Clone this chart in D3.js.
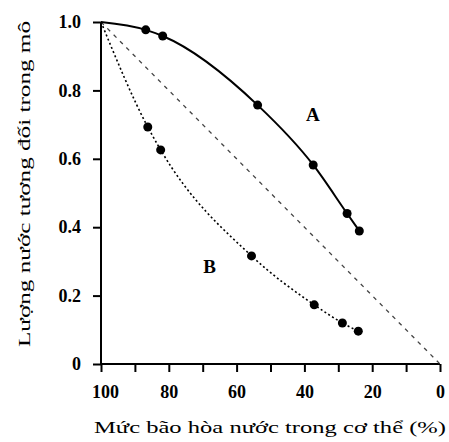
<!DOCTYPE html>
<html>
<head>
<meta charset="utf-8">
<script src="https://cdn.jsdelivr.net/npm/d3@7"></script>
<style>
  body { margin: 0; background: #fff; }
  text { font-family: "Liberation Serif", "DejaVu Serif", serif; }
</style>
</head>
<body>
<svg id="chart" width="449" height="442"></svg>
<script>
// Data
const xA = [100, 86.8, 81.8, 53.8, 37.4, 27.4, 23.8];
const yA = [1.0, 0.977, 0.959, 0.757, 0.582, 0.44, 0.389];
const xB = [100, 86.2, 82.4, 55.6, 37.1, 28.8, 24.1];
const yB = [1.0, 0.693, 0.626, 0.316, 0.173, 0.12, 0.096];
const diagX = [100, 0];
const diagY = [1, 0];
const xTicks = [100, 90, 80, 70, 60, 50, 40, 30, 20, 10, 0];
const xLabels = [100, 80, 60, 40, 20, 0];
const yTicks = [0, 0.2, 0.4, 0.6, 0.8, 1.0];

const svg = d3.select("#chart");

const x = d3.scaleLinear().domain([100, 0]).range([101, 440]);
const y = d3.scaleLinear().domain([0, 1]).range([364, 22]);

// Axes
const xAxis = d3.axisBottom(x)
    .tickValues(xTicks)
    .tickSize(8)
    .tickFormat(d => xLabels.includes(d) ? d : "");
const gx = svg.append("g").attr("transform", `translate(0,${y(0)})`).call(xAxis);
gx.select(".domain").attr("stroke-width", 2).attr("d", `M${x(100)},0H${x(0)}`);
gx.selectAll(".tick line").attr("stroke-width", 2);
gx.selectAll(".tick text")
    .attr("y", 21)
    .attr("dx", d => d === 100 ? 4 : 0)
    .style("font-size", "18px")
    .style("font-weight", "bold")
    .attr("fill", "#000");

const yAxis = d3.axisLeft(y)
    .tickValues(yTicks)
    .tickSize(8)
    .tickFormat(d => d === 0 ? "0" : d3.format(".1f")(d));
const gy = svg.append("g").attr("transform", `translate(${x(100)},0)`).call(yAxis);
gy.select(".domain").attr("stroke-width", 2).attr("d", `M0,${y(0)}V${y(1)}`);
gy.selectAll(".tick line").attr("stroke-width", 2);
gy.selectAll(".tick text")
    .attr("x", -20)
    .style("font-size", "18px")
    .style("font-weight", "bold")
    .attr("fill", "#000");

// Diagonal reference line
const lineGen = d3.line().x(d => x(d[0])).y(d => y(d[1]));
svg.append("path")
    .attr("d", lineGen(d3.zip(diagX, diagY)))
    .attr("fill", "none")
    .attr("stroke", "#444")
    .attr("stroke-width", 1.3)
    .attr("stroke-dasharray", "4,5");

const smooth = d3.line()
    .x(d => x(d[0]))
    .y(d => y(d[1]))
    .curve(d3.curveMonotoneX);

// Curve A (solid)
const dataA = d3.zip(xA, yA);
svg.append("path")
    .attr("d", smooth(dataA))
    .attr("fill", "none")
    .attr("stroke", "#000")
    .attr("stroke-width", 2);

// Curve B (dotted)
const dataB = d3.zip(xB, yB);
svg.append("path")
    .attr("d", smooth(dataB))
    .attr("fill", "none")
    .attr("stroke", "#000")
    .attr("stroke-width", 1.6)
    .attr("stroke-dasharray", "2,2.5");

// Points (skip the starting point at 100%)
svg.selectAll("circle.a")
    .data(dataA.slice(1))
    .enter().append("circle")
    .attr("class", "a")
    .attr("cx", d => x(d[0]))
    .attr("cy", d => y(d[1]))
    .attr("r", 4.5)
    .attr("fill", "#000");

svg.selectAll("circle.b")
    .data(dataB.slice(1))
    .enter().append("circle")
    .attr("class", "b")
    .attr("cx", d => x(d[0]))
    .attr("cy", d => y(d[1]))
    .attr("r", 4.5)
    .attr("fill", "#000");

// Curve labels
svg.append("text")
    .attr("x", x(37.5)).attr("y", y(0.71))
    .attr("text-anchor", "middle")
    .style("font-size", "19px")
    .style("font-weight", "bold")
    .text("A");
svg.append("text")
    .attr("x", x(68)).attr("y", y(0.265))
    .attr("text-anchor", "middle")
    .style("font-size", "19px")
    .style("font-weight", "bold")
    .text("B");

// Axis titles
svg.append("text")
    .attr("x", 270).attr("y", 433)
    .attr("text-anchor", "middle")
    .attr("textLength", 352)
    .attr("lengthAdjust", "spacingAndGlyphs")
    .style("font-size", "17px")
    .text("Mức bão hòa nước trong cơ thể (%)");

svg.append("text")
    .attr("transform", "translate(30,184) rotate(-90)")
    .attr("text-anchor", "middle")
    .attr("textLength", 326)
    .attr("lengthAdjust", "spacingAndGlyphs")
    .style("font-size", "17px")
    .text("Lượng nước tương đối trong mô");
</script>
</body>
</html>
